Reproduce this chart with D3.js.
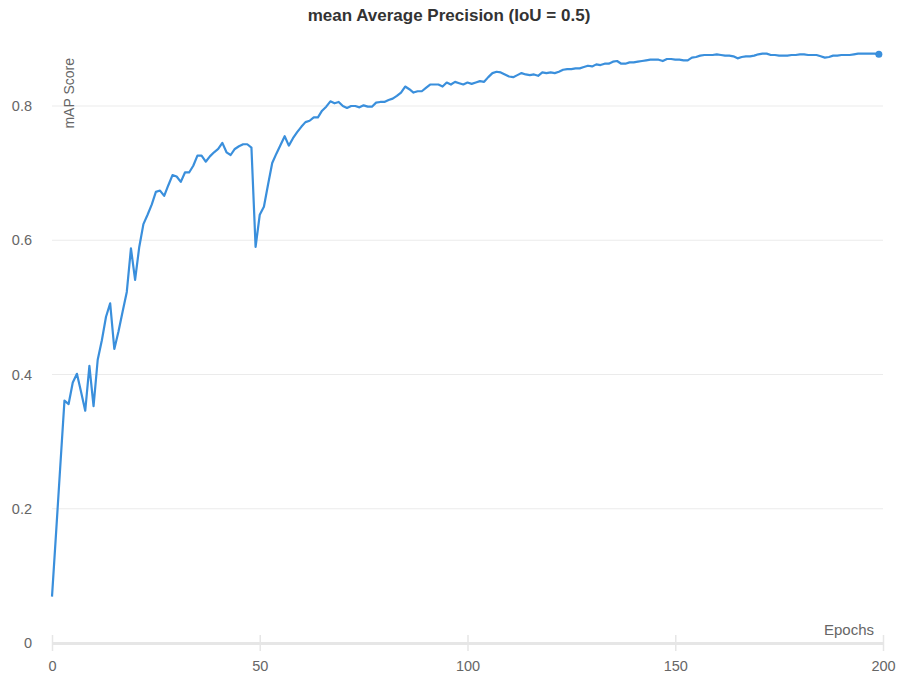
<!DOCTYPE html>
<html>
<head>
<meta charset="utf-8">
<script src="https://cdn.jsdelivr.net/npm/d3@7"></script>
<style>
    body { margin: 0; background: #fff; }
    svg { display: block; font-family: "Liberation Sans", Arial, sans-serif; }
</style>
</head>
<body>
<svg id="chart"></svg>
<script>
const title = "mean Average Precision (IoU = 0.5)";
const xLabel = "Epochs";
const yLabel = "mAP Score";
const xTicks = [0, 50, 100, 150, 200];
const yTicks = [0, 0.2, 0.4, 0.6, 0.8];

// mAP@0.5 per epoch (0..199)
const mapScores = [
    0.069, 0.166, 0.264, 0.361, 0.356, 0.388, 0.401, 0.374, 0.346, 0.413,
    0.353, 0.422, 0.451, 0.486, 0.506, 0.438, 0.464, 0.494, 0.523, 0.588,
    0.541, 0.590, 0.624, 0.638, 0.653, 0.672, 0.674, 0.666, 0.682, 0.697,
    0.695, 0.687, 0.701, 0.701, 0.711, 0.726, 0.726, 0.717, 0.725, 0.731,
    0.736, 0.745, 0.731, 0.727, 0.736, 0.740, 0.743, 0.743, 0.738, 0.590,
    0.638, 0.650, 0.683, 0.715, 0.729, 0.742, 0.755, 0.741, 0.752, 0.761,
    0.769, 0.776, 0.778, 0.783, 0.783, 0.793, 0.799, 0.807, 0.804, 0.806,
    0.800, 0.797, 0.800, 0.800, 0.798, 0.801, 0.799, 0.799, 0.805, 0.806,
    0.806, 0.809, 0.811, 0.815, 0.820, 0.829, 0.825, 0.820, 0.822, 0.822,
    0.827, 0.832, 0.832, 0.832, 0.829, 0.835, 0.832, 0.836, 0.834, 0.832,
    0.835, 0.833, 0.835, 0.837, 0.836, 0.843, 0.849, 0.851, 0.850, 0.847,
    0.844, 0.843, 0.846, 0.849, 0.847, 0.846, 0.847, 0.845, 0.850, 0.849,
    0.850, 0.849, 0.851, 0.854, 0.855, 0.855, 0.856, 0.856, 0.858, 0.860,
    0.859, 0.862, 0.861, 0.863, 0.863, 0.866, 0.867, 0.863, 0.863, 0.865,
    0.865, 0.866, 0.867, 0.868, 0.869, 0.869, 0.869, 0.867, 0.870, 0.870,
    0.869, 0.869, 0.868, 0.868, 0.872, 0.873, 0.875, 0.876, 0.876, 0.876,
    0.877, 0.876, 0.875, 0.875, 0.874, 0.871, 0.873, 0.874, 0.874, 0.875,
    0.877, 0.878, 0.878, 0.876, 0.876, 0.875, 0.875, 0.875, 0.876, 0.876,
    0.877, 0.877, 0.876, 0.876, 0.876, 0.874, 0.872, 0.873, 0.875, 0.875,
    0.876, 0.876, 0.876, 0.877, 0.878, 0.878, 0.878, 0.878, 0.878, 0.877
];
const epochs = d3.range(mapScores.length);

const width = 898, height = 679;
const margin = { top: 106, right: 15, bottom: 36, left: 52 };

const svg = d3.select("#chart")
    .attr("width", width)
    .attr("height", height);

const x = d3.scaleLinear()
    .domain([0, 200])
    .range([margin.left, width - margin.right]);

const y = d3.scaleLinear()
    .domain([0, 0.8])
    .range([height - margin.bottom, margin.top]);

// grid lines
svg.append("g")
    .attr("class", "grid")
    .selectAll("line")
    .data(yTicks.filter(d => d > 0))
    .join("line")
    .attr("x1", x(0))
    .attr("x2", x(200))
    .attr("y1", d => y(d))
    .attr("y2", d => y(d))
    .attr("stroke", "#ebebeb")
    .attr("stroke-width", 1);

// y tick labels
const yAxis = svg.append("g")
    .attr("transform", `translate(${x(0)},0)`)
    .call(d3.axisLeft(y).tickValues(yTicks).tickSize(0).tickPadding(20)
        .tickFormat(d => d === 0 ? "0" : d3.format(".1f")(d)));
yAxis.select(".domain").remove();
yAxis.selectAll("text")
    .attr("fill", "#666")
    .attr("font-size", 14.5)
    .attr("font-family", "Liberation Sans, Arial, sans-serif");

// x axis
const xAxis = svg.append("g")
    .attr("transform", `translate(0,${y(0)})`)
    .call(d3.axisBottom(x).tickValues(xTicks).tickSize(0).tickPadding(18));
xAxis.select(".domain")
    .attr("stroke", "#e6e6e6")
    .attr("stroke-width", 3);
xAxis.selectAll(".tick line")
    .attr("y1", -8)
    .attr("y2", 8)
    .attr("stroke", "#e6e6e6")
    .attr("stroke-width", 1.5);
xAxis.selectAll("text")
    .attr("fill", "#666")
    .attr("font-size", 14.5)
    .attr("font-family", "Liberation Sans, Arial, sans-serif");

// the curve
const line = d3.line()
    .x(d => x(d))
    .y(d => y(mapScores[d]));

svg.append("path")
    .datum(epochs)
    .attr("fill", "none")
    .attr("stroke", "#3a8fdc")
    .attr("stroke-width", 2.2)
    .attr("stroke-linejoin", "round")
    .attr("d", line);

const last = epochs[epochs.length - 1];
svg.append("circle")
    .attr("cx", x(last))
    .attr("cy", y(mapScores[last]))
    .attr("r", 3.5)
    .attr("fill", "#3a8fdc");

// titles
svg.append("text")
    .attr("x", width / 2)
    .attr("y", 21)
    .attr("text-anchor", "middle")
    .attr("font-size", 17)
    .attr("font-weight", "bold")
    .attr("fill", "#333")
    .text(title);

svg.append("text")
    .attr("transform", `translate(74,58) rotate(-90)`)
    .attr("text-anchor", "end")
    .attr("font-size", 14)
    .attr("fill", "#666")
    .text(yLabel);

svg.append("text")
    .attr("x", x(200) - 9)
    .attr("y", y(0) - 8)
    .attr("text-anchor", "end")
    .attr("font-size", 15)
    .attr("fill", "#666")
    .text(xLabel);
</script>
</body>
</html>
